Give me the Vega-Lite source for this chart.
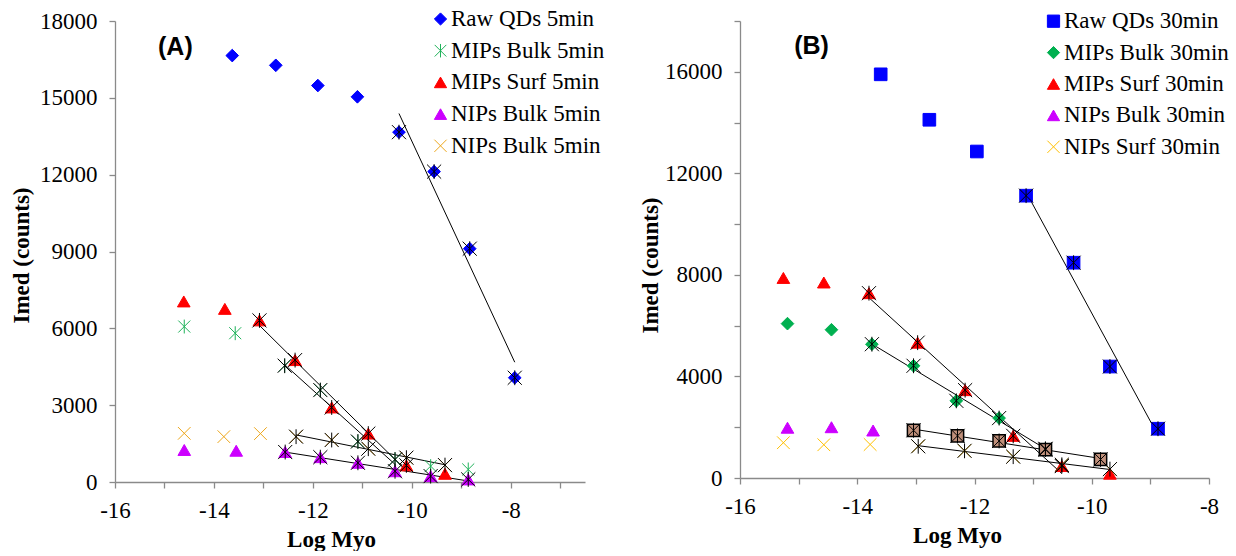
{
  "$schema": "https://vega.github.io/schema/vega-lite/v6.json",
  "padding": {"left": 10, "top": 7, "right": 0, "bottom": 0},
  "bounds": "flush",
  "spacing": 155,
  "config": {
    "view": {"stroke": null},
    "font": "Liberation Serif",
    "axis": {
      "grid": false,
      "labelFont": "Liberation Serif", "labelFontSize": 23, "labelColor": "#000",
      "titleFont": "Liberation Serif", "titleFontSize": 23, "titleFontWeight": "bold", "titleColor": "#000",
      "domainColor": "#8a8a8a", "tickColor": "#8a8a8a", "domainWidth": 1.3, "tickWidth": 1.3, "tickSize": 6,
      "labelOverlap": false, "labelFlush": false, "labelBound": false
    },
    "axisX": {"labelPadding": 11, "titlePadding": 6},
    "axisY": {"labelPadding": 12}
  },
  "resolve": {
    "scale": {"x": "independent", "y": "independent", "fill": "independent", "stroke": "independent", "shape": "independent"},
    "legend": {"fill": "independent", "stroke": "independent", "shape": "independent"}
  },
  "datasets": {
    "a": [
      {"s": "Raw QDs 5min", "x": -13.63, "y": 16650, "fit": false},
      {"s": "Raw QDs 5min", "x": -12.75, "y": 16270, "fit": false},
      {"s": "Raw QDs 5min", "x": -11.9, "y": 15480, "fit": false},
      {"s": "Raw QDs 5min", "x": -11.1, "y": 15040, "fit": false},
      {"s": "Raw QDs 5min", "x": -10.26, "y": 13660, "fit": true},
      {"s": "Raw QDs 5min", "x": -9.55, "y": 12120, "fit": true},
      {"s": "Raw QDs 5min", "x": -8.83, "y": 9110, "fit": true},
      {"s": "Raw QDs 5min", "x": -7.92, "y": 4070, "fit": true},
      {"s": "MIPs Bulk 5min", "x": -14.6, "y": 6070, "fit": false},
      {"s": "MIPs Bulk 5min", "x": -13.57, "y": 5810, "fit": false},
      {"s": "MIPs Bulk 5min", "x": -12.57, "y": 4540, "fit": true},
      {"s": "MIPs Bulk 5min", "x": -11.85, "y": 3590, "fit": true},
      {"s": "MIPs Bulk 5min", "x": -11.09, "y": 1580, "fit": true},
      {"s": "MIPs Bulk 5min", "x": -10.34, "y": 880, "fit": true},
      {"s": "MIPs Bulk 5min", "x": -9.62, "y": 620, "fit": false},
      {"s": "MIPs Bulk 5min", "x": -8.86, "y": 490, "fit": false},
      {"s": "MIPs Surf 5min", "x": -14.61, "y": 7050, "fit": false},
      {"s": "MIPs Surf 5min", "x": -13.78, "y": 6760, "fit": false},
      {"s": "MIPs Surf 5min", "x": -13.08, "y": 6310, "fit": true},
      {"s": "MIPs Surf 5min", "x": -12.36, "y": 4760, "fit": true},
      {"s": "MIPs Surf 5min", "x": -11.62, "y": 2910, "fit": true},
      {"s": "MIPs Surf 5min", "x": -10.88, "y": 1890, "fit": true},
      {"s": "MIPs Surf 5min", "x": -10.11, "y": 650, "fit": true},
      {"s": "MIPs Surf 5min", "x": -9.33, "y": 320, "fit": false},
      {"s": "NIPs Bulk 5min", "x": -14.6, "y": 1250, "fit": false},
      {"s": "NIPs Bulk 5min", "x": -13.55, "y": 1220, "fit": false},
      {"s": "NIPs Bulk 5min", "x": -12.56, "y": 1170, "fit": true},
      {"s": "NIPs Bulk 5min", "x": -11.85, "y": 970, "fit": true},
      {"s": "NIPs Bulk 5min", "x": -11.09, "y": 750, "fit": true},
      {"s": "NIPs Bulk 5min", "x": -10.34, "y": 420, "fit": true},
      {"s": "NIPs Bulk 5min", "x": -9.62, "y": 230, "fit": true},
      {"s": "NIPs Bulk 5min", "x": -8.86, "y": 100, "fit": true},
      {"s": "NIPs Bulk 5min ", "x": -14.6, "y": 1900, "fit": false},
      {"s": "NIPs Bulk 5min ", "x": -13.8, "y": 1770, "fit": false},
      {"s": "NIPs Bulk 5min ", "x": -13.06, "y": 1890, "fit": false},
      {"s": "NIPs Bulk 5min ", "x": -12.34, "y": 1770, "fit": true},
      {"s": "NIPs Bulk 5min ", "x": -11.62, "y": 1640, "fit": true},
      {"s": "NIPs Bulk 5min ", "x": -10.88, "y": 1300, "fit": true},
      {"s": "NIPs Bulk 5min ", "x": -10.11, "y": 950, "fit": true},
      {"s": "NIPs Bulk 5min ", "x": -9.33, "y": 660, "fit": true}
    ],
    "b": [
      {"s": "Raw QDs 30min", "x": -13.6, "y": 15900, "fit": false},
      {"s": "Raw QDs 30min", "x": -12.77, "y": 14110, "fit": false},
      {"s": "Raw QDs 30min", "x": -11.96, "y": 12860, "fit": false},
      {"s": "Raw QDs 30min", "x": -11.12, "y": 11120, "fit": true},
      {"s": "Raw QDs 30min", "x": -10.31, "y": 8480, "fit": true},
      {"s": "Raw QDs 30min", "x": -9.69, "y": 4390, "fit": true},
      {"s": "Raw QDs 30min", "x": -8.87, "y": 1940, "fit": true},
      {"s": "MIPs Bulk 30min", "x": -15.19, "y": 6080, "fit": false},
      {"s": "MIPs Bulk 30min", "x": -14.44, "y": 5840, "fit": false},
      {"s": "MIPs Bulk 30min", "x": -13.75, "y": 5270, "fit": true},
      {"s": "MIPs Bulk 30min", "x": -13.04, "y": 4420, "fit": true},
      {"s": "MIPs Bulk 30min", "x": -12.31, "y": 3040, "fit": true},
      {"s": "MIPs Bulk 30min", "x": -11.58, "y": 2360, "fit": true},
      {"s": "MIPs Bulk 30min", "x": -10.79, "y": 1150, "fit": true},
      {"s": "MIPs Surf 30min", "x": -15.26, "y": 7880, "fit": false},
      {"s": "MIPs Surf 30min", "x": -14.57, "y": 7700, "fit": false},
      {"s": "MIPs Surf 30min", "x": -13.8, "y": 7280, "fit": true},
      {"s": "MIPs Surf 30min", "x": -12.97, "y": 5330, "fit": true},
      {"s": "MIPs Surf 30min", "x": -12.16, "y": 3460, "fit": true},
      {"s": "MIPs Surf 30min", "x": -11.34, "y": 1660, "fit": true},
      {"s": "MIPs Surf 30min", "x": -10.51, "y": 470, "fit": true},
      {"s": "MIPs Surf 30min", "x": -9.69, "y": 170, "fit": false},
      {"s": "NIPs Bulk 30min", "x": -15.19, "y": 1980, "fit": false},
      {"s": "NIPs Bulk 30min", "x": -14.44, "y": 2000, "fit": false},
      {"s": "NIPs Bulk 30min", "x": -13.73, "y": 1870, "fit": false},
      {"s": "NIPs Bulk 30min", "x": -13.04, "y": 1880, "fit": true},
      {"s": "NIPs Bulk 30min", "x": -12.29, "y": 1660, "fit": true},
      {"s": "NIPs Bulk 30min", "x": -11.58, "y": 1460, "fit": true},
      {"s": "NIPs Bulk 30min", "x": -10.79, "y": 1120, "fit": true},
      {"s": "NIPs Bulk 30min", "x": -9.85, "y": 730, "fit": true},
      {"s": "NIPs Surf 30min", "x": -15.26, "y": 1390, "fit": false},
      {"s": "NIPs Surf 30min", "x": -14.57, "y": 1310, "fit": false},
      {"s": "NIPs Surf 30min", "x": -13.78, "y": 1320, "fit": false},
      {"s": "NIPs Surf 30min", "x": -12.96, "y": 1250, "fit": true},
      {"s": "NIPs Surf 30min", "x": -12.17, "y": 1070, "fit": true},
      {"s": "NIPs Surf 30min", "x": -11.34, "y": 840, "fit": true},
      {"s": "NIPs Surf 30min", "x": -10.51, "y": 520, "fit": true},
      {"s": "NIPs Surf 30min", "x": -9.69, "y": 350, "fit": true}
    ]
  },
  "hconcat": [
    {
      "width": 470, "height": 461,
      "layer": [
        {
          "data": {"name": "a"},
          "encoding": {
            "x": {"field": "x", "type": "quantitative",
              "scale": {"domain": [-16, -6.5], "nice": false, "zero": false},
              "axis": {"title": "Log Myo", "titleX": 216,
                "values": [-16, -15.5, -15, -14.5, -14, -13.5, -13, -12.5, -12, -11.5, -11, -10.5, -10, -9.5, -9, -8.5, -8, -7.5, -7, -6.5],
                "labelExpr": "datum.value % 2 === 0 ? '' + datum.value : ''"}},
            "y": {"field": "y", "type": "quantitative",
              "scale": {"domain": [0, 18000], "nice": false},
              "axis": {"title": "Imed (counts)", "titleY": 234, "titlePadding": 6,
                "values": [0, 1500, 3000, 4500, 6000, 7500, 9000, 10500, 12000, 13500, 15000, 16500, 18000],
                "labelExpr": "datum.value % 3000 === 0 ? '' + datum.value : ''"}}
          },
          "layer": [
            {
              "transform": [{"filter": "datum.fit"}, {"regression": "y", "on": "x", "groupby": ["s"]}],
              "mark": {"type": "line", "color": "#000", "strokeWidth": 1},
              "encoding": {"detail": {"field": "s"}}
            },
            {
              "mark": {"type": "point", "opacity": 1, "strokeWidth": 1, "size": 160},
              "encoding": {
                "fill": {"field": "s", "type": "nominal",
                  "scale": {"domain": ["Raw QDs 5min", "MIPs Bulk 5min", "MIPs Surf 5min", "NIPs Bulk 5min", "NIPs Bulk 5min "],
                    "range": ["#0000ff", "transparent", "#ff0000", "#cc00ff", "transparent"]},
                  "legend": {"orient": "none", "legendX": 314, "legendY": -13.5, "title": null, "labelFont": "Liberation Serif", "labelFontSize": 23, "labelColor": "#000", "symbolSize": 150, "symbolStrokeWidth": 1, "rowPadding": 7.7, "labelOffset": -1, "padding": 0, "labelLimit": 400}},
                "stroke": {"field": "s", "type": "nominal",
                  "scale": {"domain": ["Raw QDs 5min", "MIPs Bulk 5min", "MIPs Surf 5min", "NIPs Bulk 5min", "NIPs Bulk 5min "],
                    "range": ["#0000ff", "#1fb25a", "#ff0000", "#cc00ff", "#eda71c"]},
                  "legend": {"orient": "none", "legendX": 314, "legendY": -13.5, "title": null, "labelFont": "Liberation Serif", "labelFontSize": 23, "labelColor": "#000", "symbolSize": 150, "symbolStrokeWidth": 1, "rowPadding": 7.7, "labelOffset": -1, "padding": 0, "labelLimit": 400}},
                "shape": {"field": "s", "type": "nominal",
                  "scale": {"domain": ["Raw QDs 5min", "MIPs Bulk 5min", "MIPs Surf 5min", "NIPs Bulk 5min", "NIPs Bulk 5min "],
                    "range": ["diamond", "M-0.95,-0.95L0.95,0.95M-0.95,0.95L0.95,-0.95M0,-1.1L0,1.1", "triangle-up", "triangle-up", "M-1,-1L1,1M-1,1L1,-1"]},
                  "legend": {"orient": "none", "legendX": 314, "legendY": -13.5, "title": null, "labelFont": "Liberation Serif", "labelFontSize": 23, "labelColor": "#000", "symbolSize": 150, "symbolStrokeWidth": 1, "rowPadding": 7.7, "labelOffset": -1, "padding": 0, "labelLimit": 400}}
              }
            },
            {
              "transform": [{"filter": "datum.fit"}],
              "mark": {"type": "point", "shape": "M-0.95,-0.95L0.95,0.95M-0.95,0.95L0.95,-0.95M0,-1L0,1", "filled": false, "color": "#000", "opacity": 1, "strokeWidth": 1, "size": 220}
            }
          ]
        },
        {
          "data": {"values": [{"label": "(A)"}]},
          "mark": {"type": "text", "font": "Liberation Sans", "fontWeight": "bold", "fontSize": 25, "color": "#000", "align": "center", "baseline": "middle"},
          "encoding": {"x": {"datum": -14.78, "type": "quantitative"}, "y": {"datum": 17000, "type": "quantitative"}, "text": {"field": "label"}}
        }
      ]
    },
    {
      "width": 469, "height": 457,
      "layer": [
        {
          "data": {"name": "b"},
          "encoding": {
            "x": {"field": "x", "type": "quantitative",
              "scale": {"domain": [-16, -8], "nice": false, "zero": false},
              "axis": {"title": "Log Myo", "titleX": 217,
                "values": [-16, -15.5, -15, -14.5, -14, -13.5, -13, -12.5, -12, -11.5, -11, -10.5, -10, -9.5, -9, -8.5, -8],
                "labelExpr": "datum.value % 2 === 0 ? '' + datum.value : ''"}},
            "y": {"field": "y", "type": "quantitative",
              "scale": {"domain": [0, 18000], "nice": false},
              "axis": {"title": "Imed (counts)", "titleY": 244, "titlePadding": 2,
                "values": [0, 1000, 2000, 3000, 4000, 5000, 6000, 7000, 8000, 9000, 10000, 11000, 12000, 13000, 14000, 15000, 16000, 17000, 18000],
                "labelExpr": "datum.value % 4000 === 0 ? '' + datum.value : ''"}}
          },
          "layer": [
            {
              "transform": [{"filter": "datum.fit"}, {"regression": "y", "on": "x", "groupby": ["s"]}],
              "mark": {"type": "line", "color": "#000", "strokeWidth": 1},
              "encoding": {"detail": {"field": "s"}}
            },
            {
              "transform": [{"filter": "!(datum.s === 'NIPs Bulk 30min' && datum.fit)"}],
              "mark": {"type": "point", "opacity": 1, "strokeWidth": 1, "size": 160},
              "encoding": {
                "fill": {"field": "s", "type": "nominal",
                  "scale": {"domain": ["Raw QDs 30min", "MIPs Bulk 30min", "MIPs Surf 30min", "NIPs Bulk 30min", "NIPs Surf 30min"],
                    "range": ["#0000ff", "#00b050", "#ff0000", "#cc00ff", "transparent"]},
                  "legend": {"orient": "none", "legendX": 302, "legendY": -11.3, "title": null, "labelFont": "Liberation Serif", "labelFontSize": 23, "labelColor": "#000", "symbolSize": 150, "symbolStrokeWidth": 1, "rowPadding": 7.4, "labelOffset": -1, "padding": 0, "labelLimit": 400}},
                "stroke": {"field": "s", "type": "nominal",
                  "scale": {"domain": ["Raw QDs 30min", "MIPs Bulk 30min", "MIPs Surf 30min", "NIPs Bulk 30min", "NIPs Surf 30min"],
                    "range": ["#0000ff", "#00b050", "#ff0000", "#cc00ff", "#ffc000"]},
                  "legend": {"orient": "none", "legendX": 302, "legendY": -11.3, "title": null, "labelFont": "Liberation Serif", "labelFontSize": 23, "labelColor": "#000", "symbolSize": 150, "symbolStrokeWidth": 1, "rowPadding": 7.4, "labelOffset": -1, "padding": 0, "labelLimit": 400}},
                "shape": {"field": "s", "type": "nominal",
                  "scale": {"domain": ["Raw QDs 30min", "MIPs Bulk 30min", "MIPs Surf 30min", "NIPs Bulk 30min", "NIPs Surf 30min"],
                    "range": ["square", "diamond", "triangle-up", "triangle-up", "M-1,-1L1,1M-1,1L1,-1"]},
                  "legend": {"orient": "none", "legendX": 302, "legendY": -11.3, "title": null, "labelFont": "Liberation Serif", "labelFontSize": 23, "labelColor": "#000", "symbolSize": 150, "symbolStrokeWidth": 1, "rowPadding": 7.4, "labelOffset": -1, "padding": 0, "labelLimit": 400}}
              }
            },
            {
              "transform": [{"filter": "datum.s === 'NIPs Bulk 30min' && datum.fit"}],
              "mark": {"type": "point", "shape": "square", "fill": "#c0907b", "stroke": "#000", "strokeWidth": 1.5, "opacity": 1, "size": 150}
            },
            {
              "transform": [{"filter": "datum.fit"}],
              "mark": {"type": "point", "shape": "M-0.95,-0.95L0.95,0.95M-0.95,0.95L0.95,-0.95M0,-1L0,1", "filled": false, "color": "#000", "opacity": 1, "strokeWidth": 1, "size": 220}
            }
          ]
        },
        {
          "data": {"values": [{"label": "(B)"}]},
          "mark": {"type": "text", "font": "Liberation Sans", "fontWeight": "bold", "fontSize": 25, "color": "#000", "align": "center", "baseline": "middle"},
          "encoding": {"x": {"datum": -14.78, "type": "quantitative"}, "y": {"datum": 17000, "type": "quantitative"}, "text": {"field": "label"}}
        }
      ]
    }
  ]
}
